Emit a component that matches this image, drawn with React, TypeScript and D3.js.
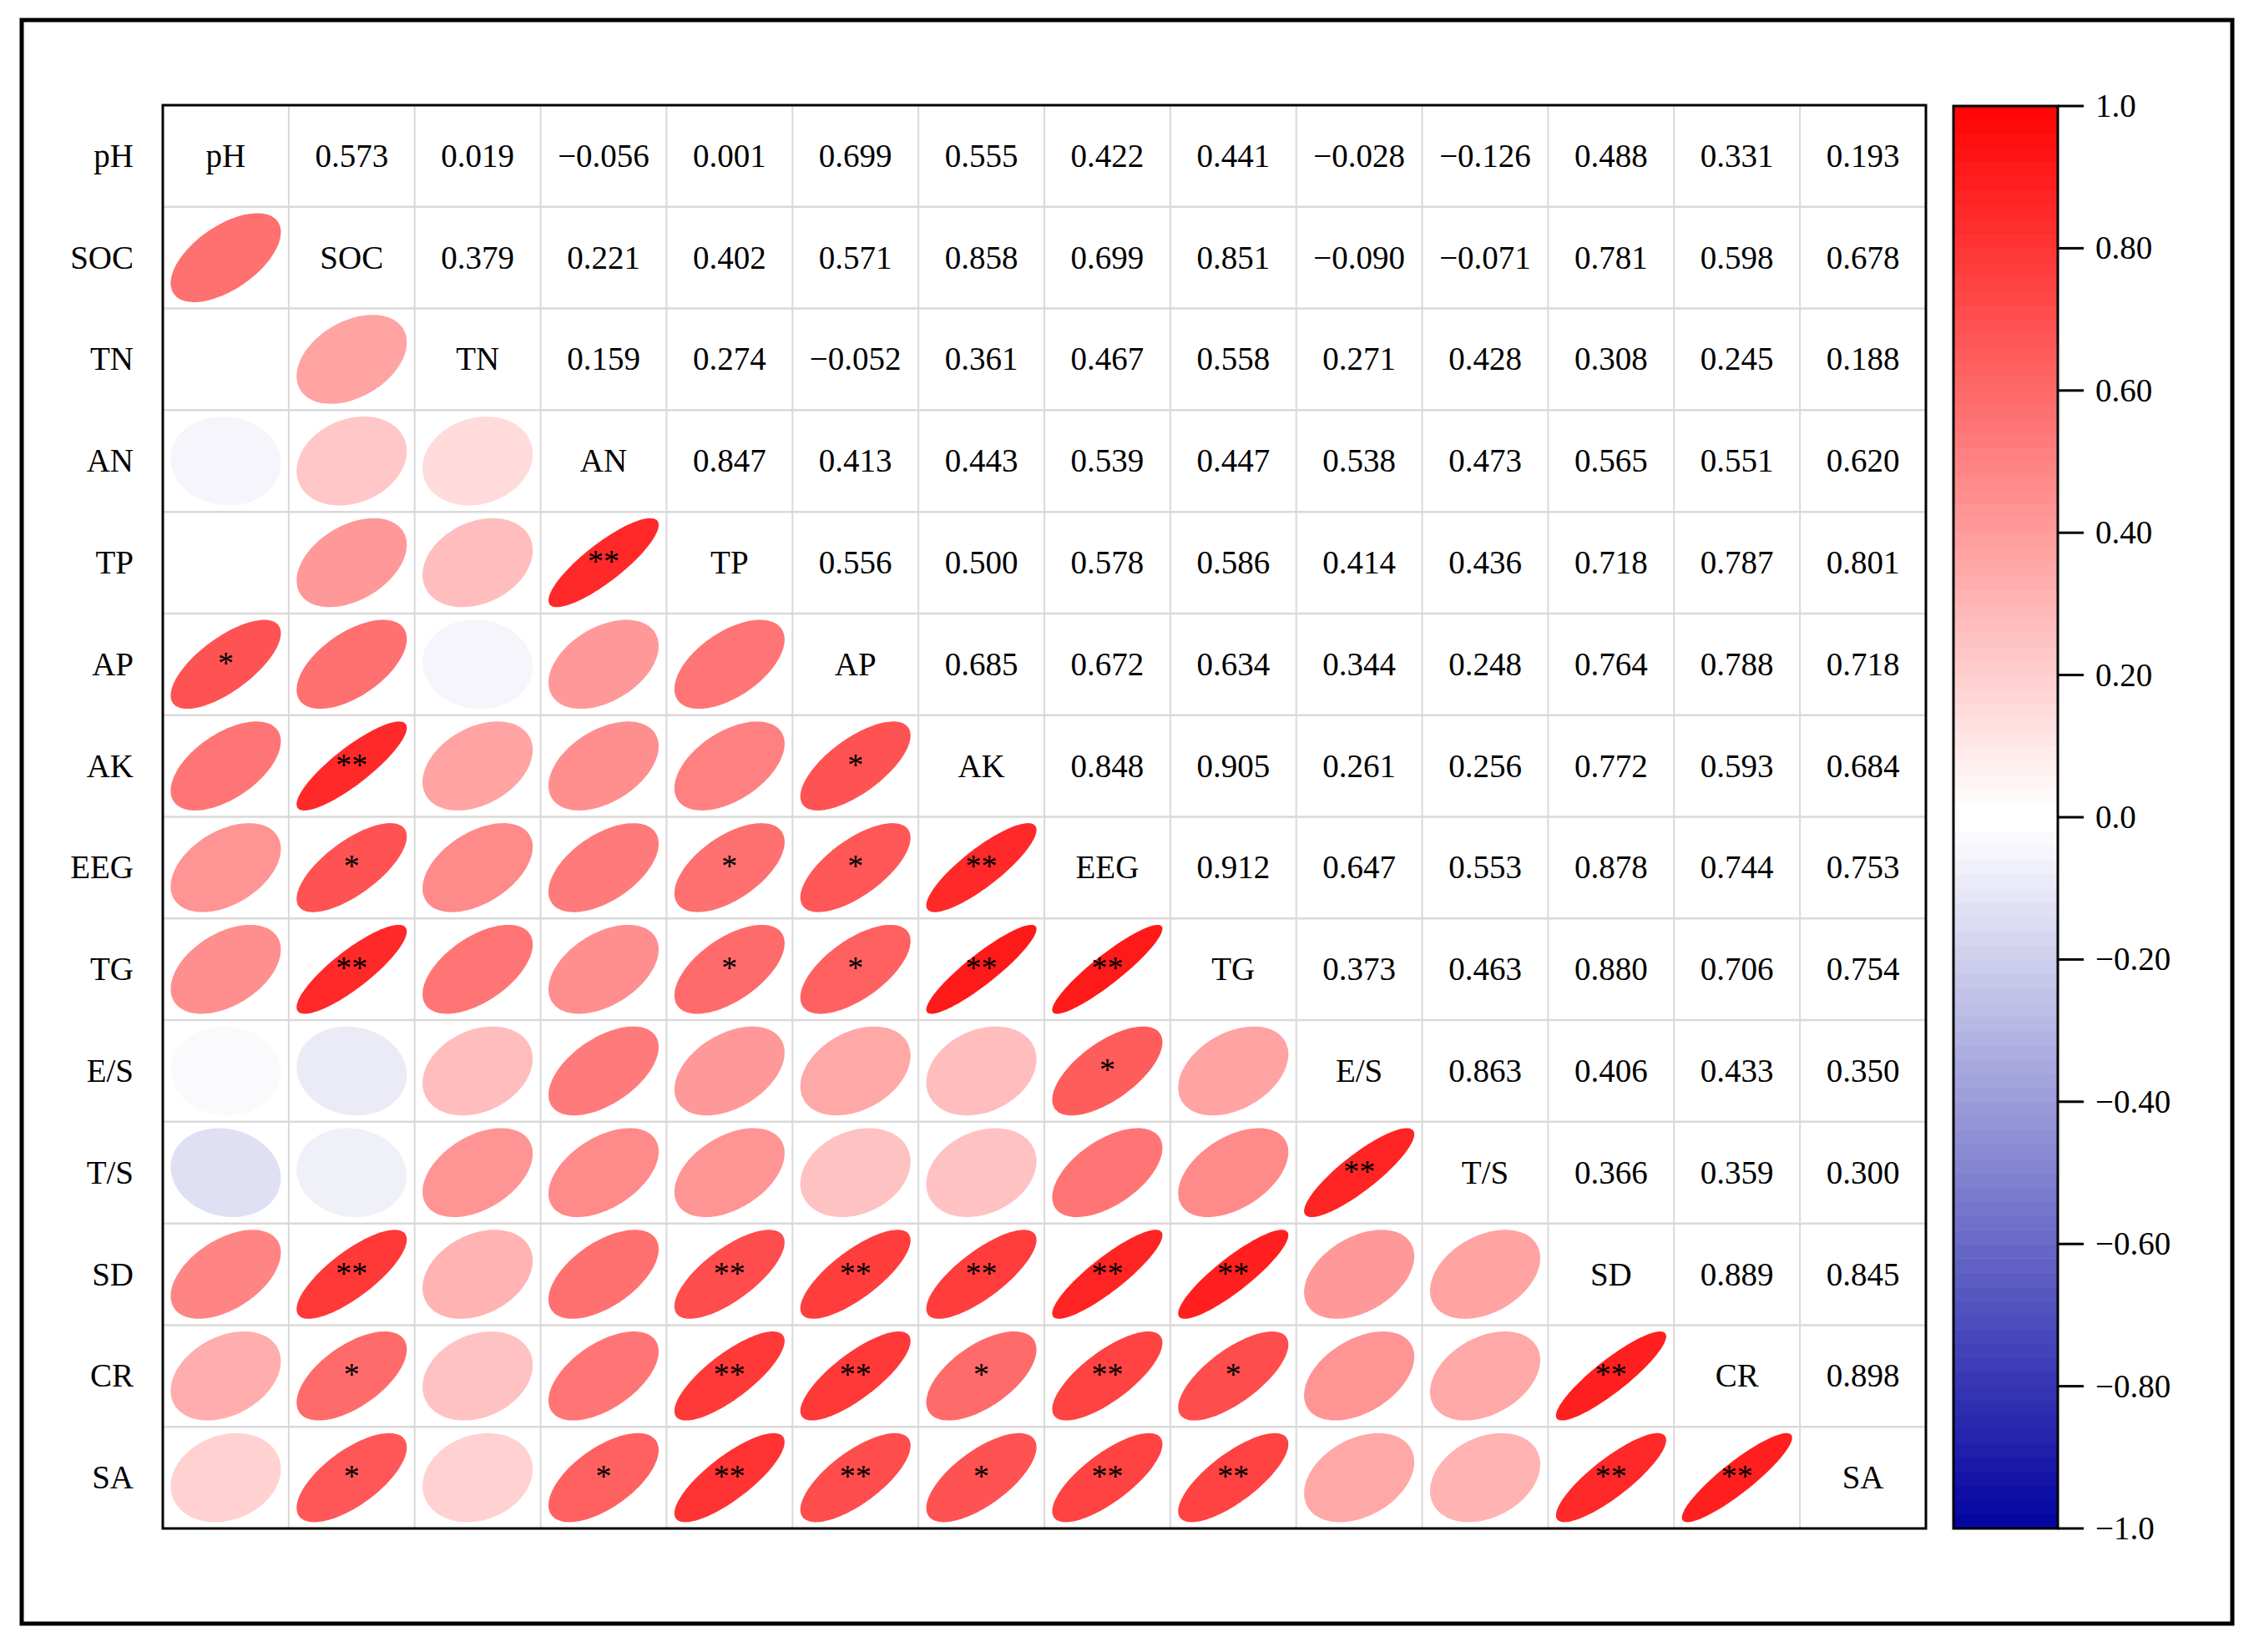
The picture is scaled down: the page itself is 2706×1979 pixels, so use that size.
import React, { useEffect } from "react";
import * as d3 from "d3";

const variables = ["pH", "SOC", "TN", "AN", "TP", "AP", "AK", "EEG", "TG", "E/S", "T/S", "SD", "CR", "SA"];

// upper-triangle correlation values, row i, columns j > i
const rowPH = [0.573, 0.019, -0.056, 0.001, 0.699, 0.555, 0.422, 0.441, -0.028, -0.126, 0.488, 0.331, 0.193];
const rowSOC = [0.379, 0.221, 0.402, 0.571, 0.858, 0.699, 0.851, -0.09, -0.071, 0.781, 0.598, 0.678];
const rowTN = [0.159, 0.274, -0.052, 0.361, 0.467, 0.558, 0.271, 0.428, 0.308, 0.245, 0.188];
const rowAN = [0.847, 0.413, 0.443, 0.539, 0.447, 0.538, 0.473, 0.565, 0.551, 0.62];
const rowTP = [0.556, 0.5, 0.578, 0.586, 0.414, 0.436, 0.718, 0.787, 0.801];
const rowAP = [0.685, 0.672, 0.634, 0.344, 0.248, 0.764, 0.788, 0.718];
const rowAK = [0.848, 0.905, 0.261, 0.256, 0.772, 0.593, 0.684];
const rowEEG = [0.912, 0.647, 0.553, 0.878, 0.744, 0.753];
const rowTG = [0.373, 0.463, 0.88, 0.706, 0.754];
const rowES = [0.863, 0.406, 0.433, 0.35];
const rowTS = [0.366, 0.359, 0.3];
const rowSD = [0.889, 0.845];
const rowCR = [0.898];
const upperRows = [rowPH, rowSOC, rowTN, rowAN, rowTP, rowAP, rowAK, rowEEG, rowTG, rowES, rowTS, rowSD, rowCR, []];

// significance marks, lower triangle, row i, columns j < i
const starsRows = [
  [],
  [""],
  ["", ""],
  ["", "", ""],
  ["", "", "", "**"],
  ["*", "", "", "", ""],
  ["", "**", "", "", "", "*"],
  ["", "*", "", "", "*", "*", "**"],
  ["", "**", "", "", "*", "*", "**", "**"],
  ["", "", "", "", "", "", "", "*", ""],
  ["", "", "", "", "", "", "", "", "", "**"],
  ["", "**", "", "", "**", "**", "**", "**", "**", "", ""],
  ["", "*", "", "", "**", "**", "*", "**", "*", "", "", "**"],
  ["", "*", "", "*", "**", "**", "*", "**", "**", "", "", "**", "**"],
];

const colorTicks = [1, 0.8, 0.6, 0.4, 0.2, 0, -0.2, -0.4, -0.6, -0.8, -1];
const colorTickLabels = ["1.0", "0.80", "0.60", "0.40", "0.20", "0.0", "\u22120.20", "\u22120.40", "\u22120.60", "\u22120.80", "\u22121.0"];
const colorStep = 0.02;

const W = 2706;
const H = 1979;
const FONT = "'Liberation Serif', 'Times New Roman', serif";

function corr(i: number, j: number): number {
  if (i === j) return 1;
  const a = Math.min(i, j);
  const b = Math.max(i, j);
  return upperRows[a][b - a - 1];
}

function fmt(v: number): string {
  const s = Math.abs(v).toFixed(3);
  return v < 0 ? "\u2212" + s : s;
}

export default function App() {
  useEffect(() => {
    document.body.style.margin = "0";
  }, []);

  const x = d3.scaleBand<string>().domain(variables).range([195, 2307]);
  const y = d3.scaleBand<string>().domain(variables).range([126, 1831]);
  const bw = x.bandwidth();
  const bh = y.bandwidth();
  const baseColor = d3
    .scaleLinear<string>()
    .domain([-1, 0, 1])
    .range(["#0000a0", "#ffffff", "#ff0000"])
    .interpolate(d3.interpolateRgb);
  const color = (v: number) => baseColor(Math.trunc(v / colorStep + 1e-9 * Math.sign(v)) * colorStep);
  const cbScale = d3.scaleLinear().domain([-1, 1]).range([1831, 127]);

  const n = variables.length;
  const ts = d3.range(0, 2 * Math.PI, Math.PI / 60);

  const ellipsePath = (r: number, cx: number, cy: number) => {
    const dd = Math.acos(Math.max(-1, Math.min(1, r)));
    const hw = 0.4375 * bw;
    const hh = 0.4375 * bh;
    const line = d3
      .line<number>()
      .x((t) => cx + hw * Math.cos(t + dd / 2))
      .y((t) => cy - hh * Math.cos(t - dd / 2))
      .curve(d3.curveLinearClosed);
    return line(ts) || "";
  };

  const cells: React.ReactNode[] = [];
  for (let i = 0; i < n; i++) {
    for (let j = 0; j < n; j++) {
      const cx = (x(variables[j]) as number) + bw / 2;
      const cy = (y(variables[i]) as number) + bh / 2;
      if (i === j) {
        cells.push(
          <text key={`d${i}`} x={cx} y={cy + 13} textAnchor="middle" fontSize={39} fontFamily={FONT} fill="#000">
            {variables[i]}
          </text>
        );
      } else if (j > i) {
        cells.push(
          <text key={`u${i}-${j}`} x={cx} y={cy + 13} textAnchor="middle" fontSize={39} fontFamily={FONT} fill="#000">
            {fmt(corr(i, j))}
          </text>
        );
      } else {
        const r = corr(i, j);
        cells.push(<path key={`e${i}-${j}`} d={ellipsePath(r, cx, cy)} fill={color(r)} />);
        const st = starsRows[i][j];
        if (st) {
          cells.push(
            <text key={`s${i}-${j}`} x={cx} y={cy + 11} textAnchor="middle" fontSize={38} fontFamily={FONT} fill="#000">
              {st}
            </text>
          );
        }
      }
    }
  }

  const gridX = d3.range(1, n).map((k) => 195 + k * bw);
  const gridY = d3.range(1, n).map((k) => 126 + k * bh);

  // stepped colour bar bands
  const nBands = Math.round(2 / colorStep);
  const bands = d3.range(nBands).map((k) => {
    const lo = -1 + k * colorStep;
    const hi = lo + colorStep;
    const v = lo >= -1e-9 ? lo : hi;
    return { lo, hi, v };
  });

  return (
    <svg width={W} height={H} viewBox={`0 0 ${W} ${H}`} style={{ display: "block" }}>
      <rect x={0} y={0} width={W} height={H} fill="#fff" />
      <rect x={26} y={24} width={2648} height={1921} fill="none" stroke="#000" strokeWidth={5} />

      {/* row labels */}
      {variables.map((v) => (
        <text key={`rl${v}`} x={160} y={(y(v) as number) + bh / 2 + 13} textAnchor="end" fontSize={39} fontFamily={FONT} fill="#000">
          {v}
        </text>
      ))}

      {/* grid */}
      {gridX.map((gx, k) => (
        <line key={`gx${k}`} x1={gx} x2={gx} y1={126} y2={1831} stroke="#d9d9d9" strokeWidth={2} />
      ))}
      {gridY.map((gy, k) => (
        <line key={`gy${k}`} x1={195} x2={2307} y1={gy} y2={gy} stroke="#d9d9d9" strokeWidth={2.5} />
      ))}

      {cells}

      <rect x={195} y={126} width={2112} height={1705} fill="none" stroke="#000" strokeWidth={3} />

      {/* colorbar */}
      {bands.map((b, k) => (
        <rect
          key={`band${k}`}
          x={2340}
          y={cbScale(b.hi)}
          width={125}
          height={cbScale(b.lo) - cbScale(b.hi) + 0.6}
          fill={baseColor(b.v)}
        />
      ))}
      <rect x={2340} y={127} width={125} height={1704} fill="none" stroke="#000" strokeWidth={3} />
      {colorTicks.map((t, k) => (
        <g key={`ct${k}`}>
          <line x1={2465} x2={2496} y1={cbScale(t)} y2={cbScale(t)} stroke="#000" strokeWidth={3} />
          <text x={2510} y={cbScale(t) + 13} fontSize={39} fontFamily={FONT} fill="#000">
            {colorTickLabels[k]}
          </text>
        </g>
      ))}
    </svg>
  );
}
